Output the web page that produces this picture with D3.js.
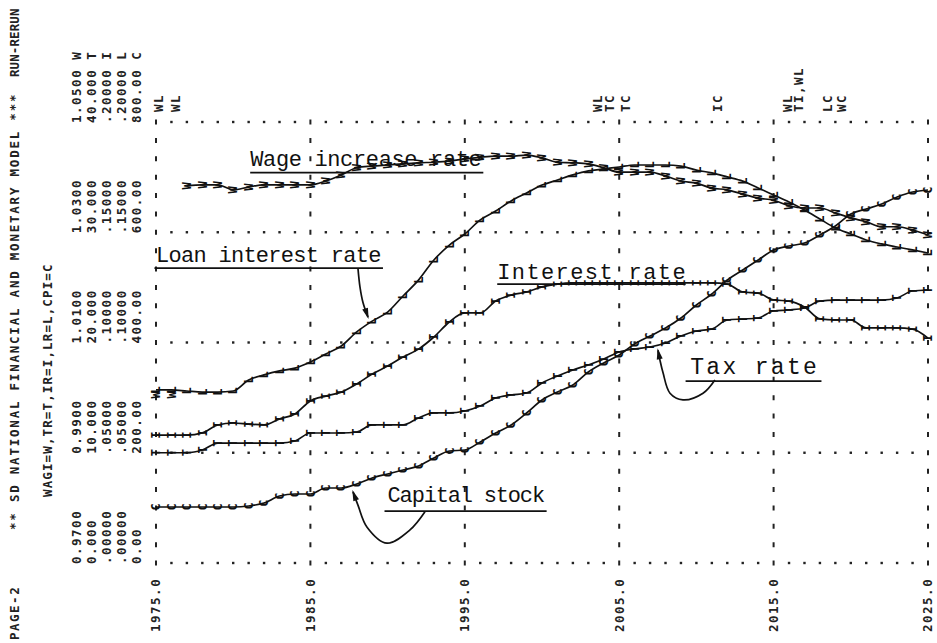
<!DOCTYPE html>
<html lang="en">
<head>
<meta charset="UTF-8">
<title>SD National Financial and Monetary Model</title>
<script src="https://d3js.org/d3.v7.min.js"></script>
<style>
  body { margin: 0; background: #fff; }
  svg { display: block; }
  .prn { font-family: "DejaVu Sans Mono", monospace; font-weight: bold; font-size: 12.5px; letter-spacing: 1.5px; fill: #222; }
  .mark { font-family: "DejaVu Sans Mono", monospace; font-weight: bold; font-size: 12px; fill: #111; }
  .note { font-family: "Liberation Mono", "Courier New", monospace; fill: #111; }
  .curve { fill: none; stroke: #111; stroke-width: 1.7; }
</style>
</head>
<body>
<svg width="937" height="643"></svg>
<script>

// yearly values, 1975..2025
var years = d3.range(1975, 2026);

var wagi = [1.0005, 1.0005, 1.0384, 1.0386, 1.0386, 1.0377, 1.0382, 1.0386, 1.0386, 1.0386,
            1.0386, 1.0393, 1.0404, 1.0417, 1.0420, 1.0422, 1.0424, 1.0426, 1.0427, 1.0429,
            1.0433, 1.0436, 1.0438, 1.0438, 1.0440, 1.0435, 1.0427, 1.0426, 1.0424, 1.0417,
            1.0409, 1.0409, 1.0409, 1.0402, 1.0393, 1.0389, 1.0380, 1.0377, 1.0369, 1.0362,
            1.0358, 1.0348, 1.0344, 1.0344, 1.0335, 1.0326, 1.0319, 1.0310, 1.0310, 1.0304,
            1.0295];
var taxRate = [10.0, 10.0, 10.0, 10.25, 10.88, 10.88, 10.88, 10.88, 10.88, 11.07,
               11.79, 11.79, 11.79, 11.88, 12.52, 12.52, 12.52, 13.15, 13.61, 13.61,
               13.79, 14.24, 14.97, 15.24, 15.42, 16.33, 16.96, 17.51, 17.96, 18.50,
               19.14, 19.41, 19.59, 19.95, 20.59, 21.04, 21.22, 22.04, 22.13, 22.22,
               22.86, 22.95, 23.13, 23.76, 23.85, 23.85, 23.85, 23.85, 24.04, 24.67,
               24.76];
var interestRate = [0.0580, 0.0580, 0.0580, 0.0590, 0.0626, 0.0635, 0.0630, 0.0626, 0.0653, 0.0676,
                    0.0735, 0.0757, 0.0775, 0.0812, 0.0857, 0.0893, 0.0934, 0.0970, 0.1025, 0.1093,
                    0.1134, 0.1134, 0.1188, 0.1215, 0.1229, 0.1252, 0.1265, 0.1270, 0.1270, 0.1270,
                    0.1270, 0.1270, 0.1270, 0.1270, 0.1270, 0.1270, 0.1270, 0.1265, 0.1229, 0.1224,
                    0.1193, 0.1188, 0.1161, 0.1107, 0.1102, 0.1102, 0.1066, 0.1066, 0.1066, 0.1061,
                    0.1020];
var loanRate = [0.0785, 0.0785, 0.0780, 0.0775, 0.0775, 0.0780, 0.0830, 0.0853, 0.0871, 0.0884,
                0.0912, 0.0948, 0.0984, 0.1048, 0.1097, 0.1138, 0.1211, 0.1283, 0.1374, 0.1442,
                0.1492, 0.1556, 0.1596, 0.1642, 0.1678, 0.1714, 0.1737, 0.1760, 0.1778, 0.1787,
                0.1796, 0.1805, 0.1805, 0.1805, 0.1800, 0.1782, 0.1769, 0.1751, 0.1732, 0.1701,
                0.1669, 0.1637, 0.1601, 0.1560, 0.1519, 0.1492, 0.1465, 0.1447, 0.1433, 0.1420,
                0.1406];
var capital = [101.6, 101.6, 101.6, 101.6, 101.6, 101.6, 103.4, 108.8, 121.5, 125.2,
               125.2, 136.1, 136.1, 143.3, 154.2, 161.5, 168.7, 176.0, 190.5, 203.2,
               205.0, 219.5, 235.8, 250.3, 272.1, 295.7, 310.2, 322.9, 346.5, 362.8,
               377.3, 397.3, 411.8, 426.3, 444.4, 468.0, 488.0, 513.4, 531.5, 549.7,
               567.8, 575.0, 580.5, 595.0, 611.3, 633.1, 642.2, 651.2, 663.9, 673.0,
               676.6];

var xLabels = ["1975.0", "1985.0", "1995.0", "2005.0", "2015.0", "2025.0"];
var decades = [1975, 1985, 1995, 2005, 2015, 2025];
var gridLevels = [0, 200, 400, 600, 800];
var scaleLabels = [
    ["0.9700", "0.9900", "1.0100", "1.0300", "1.0500 W"],
    ["0.000", "10.000", "20.000", "30.000", "40.000 T"],
    [".00000", ".05000", ".10000", ".15000", ".20000 I"],
    [".00000", ".05000", ".10000", ".15000", ".20000 L"],
    ["0.00", "200.00", "400.00", "600.00", "800.00 C"]
];
var overlaps = [[1975.2, "WL"], [1976.3, "WL"], [2003.6, "WL"], [2004.4, "TC"], [2005.4, "TC"],
                [2011.4, "IC"], [2015.9, "WL"], [2016.6, "TI,WL"], [2018.5, "LC"], [2019.4, "WC"]];

// hand written notes, positions in (year, CPI level)
var notes = [
    {text: "Wage increase rate", at: [1981.1, 720], end: 1996.1, size: 22, under: [1981.1, 1996.2, 708]},
    {text: "Loan interest rate", at: [1975.0, 546], end: 1989.6, size: 22, under: [1974.9, 1989.7, 535]},
    {text: "Interest rate", at: [1997.1, 515], end: 2009.3, size: 22, under: [1997.1, 2009.3, 506]},
    {text: "Tax rate", at: [2009.6, 343], end: 2017.8, size: 23, under: [2009.3, 2018.1, 330]},
    {text: "Capital stock", at: [1990.0, 110], end: 2000.2, size: 22, under: [1989.8, 2000.3, 94]}
];
var arrows = [
    [[1988.08, 535], [1988.21, 501], [1988.41, 472], [1988.73, 446]],
    [[2011.2, 332], [2010.43, 308], [2009.13, 296], [2008.29, 308], [2007.84, 345], [2007.64, 368], [2007.51, 386]],
    [[1992.42, 93], [1991.45, 60], [1989.96, 36], [1988.67, 65], [1988.08, 105], [1987.76, 129]]
];

var svg = d3.select("svg");
svg.append("rect").attr("width", 937).attr("height", 643).attr("fill", "#fff");

var x = d3.scaleLinear().domain([1975, 2025]).range([156, 928]);
var lv = d3.scaleLinear().domain([0, 800]).range([563, 122]);

var series = [
    {key: "W", values: wagi, domain: [0.97, 1.05], from: 1977},
    {key: "T", values: taxRate, domain: [0, 40], from: 1975},
    {key: "I", values: interestRate, domain: [0, 0.2], from: 1975},
    {key: "L", values: loanRate, domain: [0, 0.2], from: 1975},
    {key: "C", values: capital, domain: [0, 800], from: 1975}
];
series.forEach(function(s) {
    s.y = d3.scaleLinear().domain(s.domain).range([563, 122]);
    s.points = years.map(function(yr, i) { return {year: yr, v: s.values[i]}; });
});

function vtext(g, px, py, str, anchor, cls) {
    return g.append("text")
        .attr("class", cls || "prn")
        .attr("transform", "translate(" + px + "," + py + ") rotate(-90)")
        .attr("text-anchor", anchor)
        .attr("dy", "0.35em")
        .text(str);
}

// grid: dotted rows, dashed decade columns
var grid = svg.append("g");
gridLevels.forEach(function(v) {
    grid.selectAll(null)
        .data(years.filter(function(d) { return (d - 1975) % 10 !== 0; }))
        .enter().append("rect")
        .attr("x", function(d) { return x(d) - 1.2; })
        .attr("y", lv(v) - 1.2)
        .attr("width", 2.4).attr("height", 2.4)
        .attr("fill", "#222");
});
grid.selectAll(null).data(decades).enter().append("line")
    .attr("x1", function(d) { return x(d); })
    .attr("x2", function(d) { return x(d); })
    .attr("y1", lv(0) + 2.5).attr("y2", lv(800) - 3)
    .attr("stroke", "#222").attr("stroke-width", 2)
    .attr("stroke-dasharray", "5 13.375");

// header lines
var head = svg.append("g");
vtext(head, 15, 640, "PAGE-2", "start");
vtext(head, 15, 530, "** SD NATIONAL FINANCIAL AND MONETARY MODEL ***", "start").attr("textLength", 437);
vtext(head, 15, 77, "RUN-RERUN", "start").attr("textLength", 70);
vtext(head, 48, 497, "WAGI=W,TR=T,IR=I,LR=L,CPI=C", "start").attr("textLength", 234);

var cols = [77, 92, 107, 122, 137];
scaleLabels.forEach(function(col, c) {
    col.forEach(function(lab, k) {
        vtext(head, cols[c], lv(gridLevels[k]) + 1, lab, "start");
    });
});
decades.forEach(function(d, i) { vtext(head, x(d), 632, xLabels[i], "start"); });
overlaps.forEach(function(o) { vtext(head, x(o[0]), 112, o[1], "start"); });

// printed symbols
var marks = svg.append("g");
series.forEach(function(s) {
    marks.selectAll(null).data(s.points).enter().append("text")
        .attr("class", "mark")
        .attr("transform", function(d) { return "translate(" + x(d.year) + "," + s.y(d.v) + ") rotate(-90)"; })
        .attr("text-anchor", "middle")
        .attr("dy", "0.35em")
        .text(s.key);
});

// hand drawn curves through the symbols
var curves = svg.append("g");
series.forEach(function(s) {
    var line = d3.line()
        .defined(function(d) { return d.year >= s.from; })
        .x(function(d) { return x(d.year); })
        .y(function(d) { return s.y(d.v); })
        .curve(d3.curveMonotoneX);
    curves.append("path").attr("class", "curve").attr("d", line(s.points));
});

// notes
var ann = svg.append("g");
notes.forEach(function(n) {
    ann.append("text").attr("class", "note")
        .attr("x", x(n.at[0])).attr("y", lv(n.at[1]))
        .attr("font-size", n.size)
        .attr("textLength", x(n.end) - x(n.at[0]))
        .attr("lengthAdjust", "spacing")
        .text(n.text);
    ann.append("line")
        .attr("x1", x(n.under[0])).attr("x2", x(n.under[1]))
        .attr("y1", lv(n.under[2])).attr("y2", lv(n.under[2]))
        .attr("stroke", "#111").attr("stroke-width", 1.8);
});
var arrowLine = d3.line()
    .x(function(d) { return x(d[0]); })
    .y(function(d) { return lv(d[1]); })
    .curve(d3.curveCatmullRom);
arrows.forEach(function(a) {
    ann.append("path").attr("class", "curve").attr("stroke-width", 1.5).attr("d", arrowLine(a));
    var p1 = a[a.length - 2], p2 = a[a.length - 1];
    var ang = Math.atan2(lv(p2[1]) - lv(p1[1]), x(p2[0]) - x(p1[0])) * 180 / Math.PI;
    ann.append("path")
        .attr("d", "M2,0 L-9,-3 L-9,3 Z")
        .attr("fill", "#111")
        .attr("transform", "translate(" + x(p2[0]) + "," + lv(p2[1]) + ") rotate(" + ang + ")");
});

</script>
</body>
</html>
